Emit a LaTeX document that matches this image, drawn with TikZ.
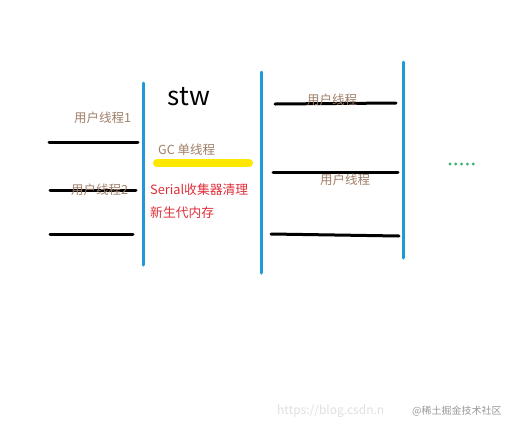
\documentclass[tikz,border=0pt]{standalone}
\usepackage{fontspec}
\setmainfont{Noto Sans CJK SC}
\definecolor{threadblue}{HTML}{1E9AD6}
\definecolor{labelbrown}{HTML}{A07E68}
\definecolor{gcred}{HTML}{E0303A}
\definecolor{hiyellow}{HTML}{FFE800}
\definecolor{dotgreen}{HTML}{3CB371}
\begin{document}
\begin{tikzpicture}[x=1pt,y=-1pt,
  divider/.style={draw=threadblue,line width=3pt,line cap=round},
  thread/.style={draw=black,line width=3pt,line cap=round},
  tlabel/.style={text=labelbrown,font=\fontsize{12.5}{15}\selectfont,inner sep=0pt},
  redtext/.style={text=gcred,font=\fontsize{12.8}{15}\selectfont,inner sep=0pt,anchor=west}]
\useasboundingbox[fill=white] (0,0) rectangle (520,432);
% dividers
\coordinate (d1t) at (143,83); \coordinate (d1b) at (143,265);
\coordinate (d2t) at (261,72); \coordinate (d2b) at (261,273);
\coordinate (d3t) at (403,62); \coordinate (d3b) at (403,258);
\draw[divider] (d1t) -- (d1b);
\draw[divider] (d2t) -- (d2b);
\draw[divider] (d3t) -- (d3b);
% left threads
\coordinate (l1a) at (49,142); \coordinate (l1b) at (138,142);
\coordinate (l2a) at (50,190); \coordinate (l2b) at (136,190);
\coordinate (l3a) at (50,234); \coordinate (l3b) at (133,234);
\draw[thread] (l1a) -- (l1b);
\draw[thread] (l2a) -- (l2b);
\draw[thread] (l3a) -- (l3b);
\node[tlabel,anchor=west] (u1) at (74,118) {用户线程1};
\node[tlabel,anchor=west] (u2) at (71,190) {用户线程2};
% stw section
\node[inner sep=0pt,font=\fontsize{26}{30}\selectfont] (stw) at (189,97) {stw};
\node[tlabel,anchor=west] (gc) at (158,150) {GC 单线程};
\coordinate (ya) at (157,163); \coordinate (yb) at (249,163);
\draw[draw=hiyellow,line width=8pt,line cap=round] (ya) -- (yb);
\node[redtext] (s1) at (150,190) {Serial收集器清理};
\node[redtext] (s2) at (150,213) {新生代内存};
% right threads
\coordinate (r1a) at (275,104); \coordinate (r1b) at (396,103);
\coordinate (r2a) at (273,172); \coordinate (r2b) at (398,172);
\coordinate (r3a) at (271,234); \coordinate (r3b) at (399,236);
\draw[thread] (r1a) -- (r1b);
\draw[thread] (r2a) -- (r2b);
\draw[thread] (r3a) -- (r3b);
\node[tlabel,anchor=west] (u3) at (307,100) {用户线程};
\node[tlabel,anchor=west] (u4) at (320,180) {用户线程};
% dots
\foreach \i in {0,...,4} \fill[dotgreen] (450+5.8*\i,164) circle (1.6pt);
% watermark
\node[anchor=west,inner sep=0pt,text=black!12,font=\fontsize{12}{14}\selectfont] (wm1) at (277,411) {https://blog.csdn.n};
\node[anchor=west,inner sep=0pt,text=black!40,font=\fontsize{10}{12}\selectfont] (wm2) at (412,411) {@稀土掘金技术社区};
\end{tikzpicture}
\end{document}
